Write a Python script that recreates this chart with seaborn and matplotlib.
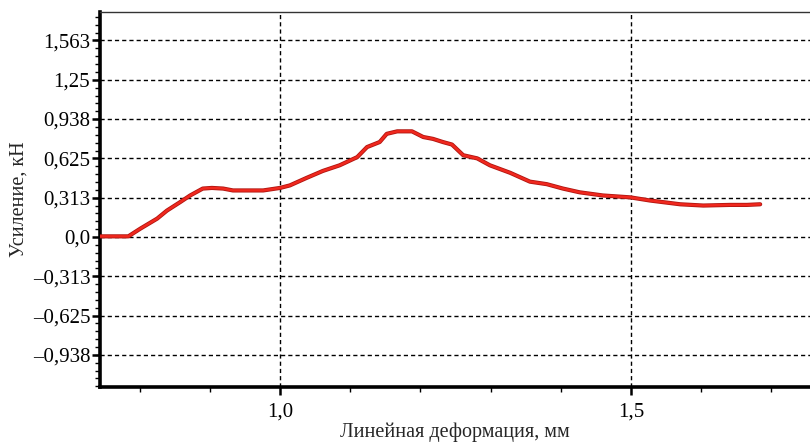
import matplotlib
matplotlib.use("Agg")
import matplotlib.pyplot as plt
import seaborn as sns
import pandas as pd
from matplotlib.ticker import FixedLocator, MultipleLocator

# Data
deformation_mm = [0.744, 0.784, 0.801, 0.825, 0.839, 0.858, 0.872, 0.890, 0.903,
                  0.919, 0.933, 0.976, 1.000, 1.014, 1.038, 1.061, 1.085, 1.110,
                  1.124, 1.142, 1.152, 1.167, 1.188, 1.204, 1.218, 1.232, 1.245,
                  1.261, 1.281, 1.299, 1.328, 1.356, 1.380, 1.403, 1.427, 1.460,
                  1.499, 1.527, 1.570, 1.603, 1.641, 1.665, 1.684]
force_kn = [0.005, 0.005, 0.066, 0.146, 0.21, 0.278, 0.33, 0.385, 0.39,
            0.385, 0.37, 0.37, 0.39, 0.41, 0.47, 0.525, 0.57, 0.635,
            0.715, 0.755, 0.82, 0.84, 0.84, 0.795, 0.78, 0.755, 0.735,
            0.65, 0.625, 0.57, 0.51, 0.44, 0.42, 0.385, 0.355, 0.33,
            0.315, 0.29, 0.26, 0.25, 0.255, 0.255, 0.26]

y_ticks = [-0.938, -0.625, -0.313, 0.0, 0.313, 0.625, 0.938, 1.25, 1.563]
y_tick_labels = ["–0,938", "–0,625", "–0,313", "0,0", "0,313", "0,625", "0,938", "1,25", "1,563"]
x_ticks = [1.0, 1.5]
x_tick_labels = ["1,0", "1,5"]

sns.set_theme(style="white")
plt.rcParams["font.family"] = ["Liberation Serif", "DejaVu Serif"]

fig = plt.figure(figsize=(8.10, 4.42), dpi=100)
ax = fig.add_axes([100/810, 55/442, 710/810, 375/442])

df = pd.DataFrame({"x": deformation_mm, "y": force_kn})
sns.lineplot(data=df, x="x", y="y", ax=ax, color="#b01510", linewidth=3.0, zorder=3)
sns.lineplot(data=df, x="x", y="y", ax=ax, color="#f0281e", linewidth=1.8, zorder=4)

ax.set_xlim(0.7436, 1.755)
ax.set_ylim(-1.193, 1.789)

ax.xaxis.set_major_locator(FixedLocator(x_ticks))
ax.set_xticklabels(x_tick_labels)
ax.xaxis.set_minor_locator(MultipleLocator(0.1))
ax.yaxis.set_major_locator(FixedLocator(y_ticks))
ax.set_yticklabels(y_tick_labels)
ax.yaxis.set_minor_locator(MultipleLocator(0.3125/5))

ax.grid(True, which="major", color="black", linestyle=(0, (3, 2.2)), linewidth=1.0)
ax.set_axisbelow(True)

ax.tick_params(axis="y", which="major", direction="out", length=6, width=1.8,
               labelsize=15, colors="black", pad=1, left=True)
ax.tick_params(axis="x", which="major", direction="out", length=6, width=1.8,
               labelsize=15, colors="black", pad=5, bottom=True)
ax.tick_params(axis="both", which="minor", direction="out", length=3.5, width=1.0,
               colors="black", left=True, bottom=True)

for side in ["left", "bottom"]:
    ax.spines[side].set_linewidth(2.6)
    ax.spines[side].set_color("black")
ax.spines["top"].set_linewidth(1.0)
ax.spines["top"].set_color("#333333")
ax.spines["right"].set_visible(False)

ax.set_xlabel("Линейная деформация, мм", fontsize=14.5, labelpad=1)
ax.set_ylabel("Усиление, кН", fontsize=14.5, labelpad=3)

fig.savefig("out.png", dpi=100)
